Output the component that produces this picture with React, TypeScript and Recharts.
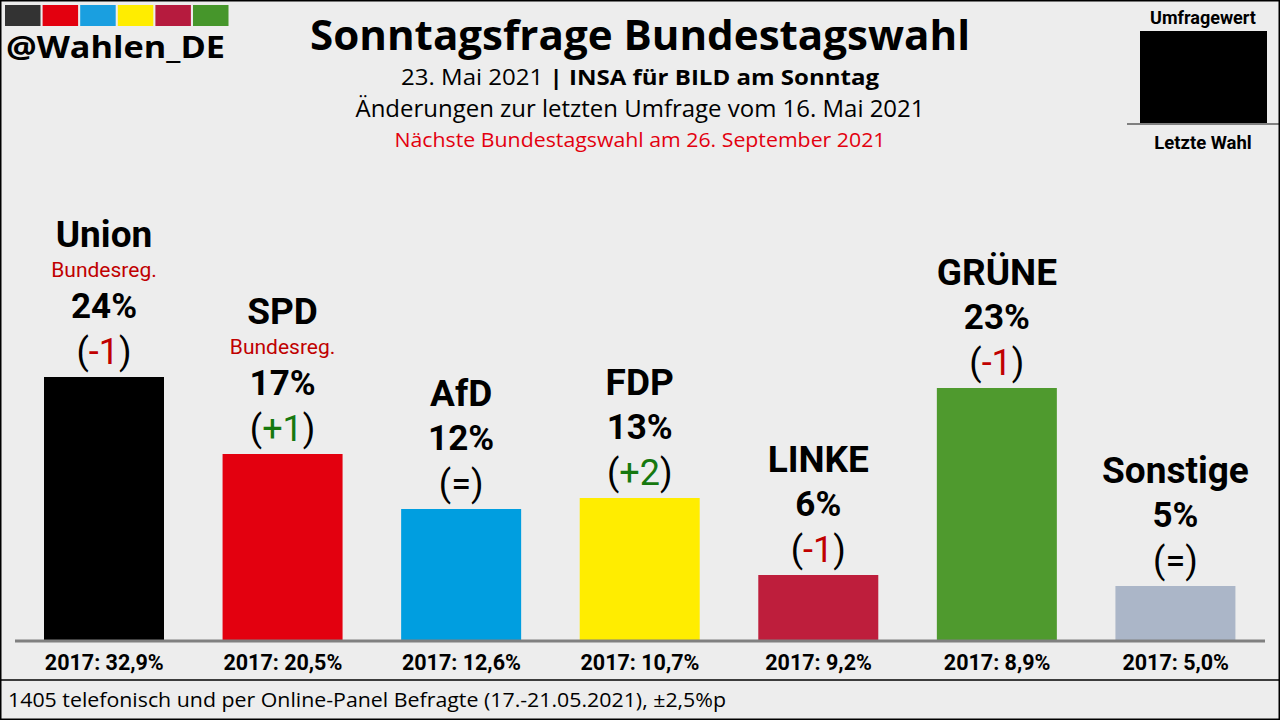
import React from 'react';
import { BarChart, Bar, XAxis, YAxis, Cell } from 'recharts';

const parties = ['Union', 'SPD', 'AfD', 'FDP', 'LINKE', 'GRÜNE', 'Sonstige'];
const pollValues = [24, 17, 12, 13, 6, 23, 5];
const changes = ['-1', '+1', '=', '+2', '-1', '-1', '='];
const government = [true, true, false, false, false, false, false];
const result2017 = ['32,9', '20,5', '12,6', '10,7', '9,2', '8,9', '5,0'];
const partyColors = ['#000000', '#e3000f', '#009ee0', '#ffed00', '#be1e3c', '#4f9a2e', '#abb6c8'];
const logoColors = ['#333333', '#e3000f', '#1a9fe0', '#ffed00', '#b61b3e', '#46962b'];

const data = parties.map((name, i) => ({ name, value: pollValues[i] }));

const BG = '#ededed';
const LABEL_FONT = 'Roboto, "Noto Sans", sans-serif';
const TEXT_FONT = '"Open Sans", "Noto Sans", sans-serif';

const changeColor = (c: string) => (c.startsWith('-') ? '#c00000' : c.startsWith('+') ? '#16780f' : '#000000');

const BarLabel = (props: any) => {
  const { x, y, width, index } = props;
  const cx = x + width / 2;
  const gov = government[index];
  const ch = changes[index];
  return (
    <g>
      <text x={cx} y={y - (gov ? 130 : 103)} textAnchor="middle" fontFamily={LABEL_FONT} fontWeight={700} fontSize={37} fill="#000">
        {parties[index]}
      </text>
      {gov && (
        <text x={cx} y={y - 100} textAnchor="middle" fontFamily={LABEL_FONT} fontSize={21} fill="#c00000">
          Bundesreg.
        </text>
      )}
      <text x={cx} y={y - 59} textAnchor="middle" fontFamily={LABEL_FONT} fontWeight={700} fontSize={35} fill="#000">
        {pollValues[index]}%
      </text>
      <text x={cx} y={y - 13} textAnchor="middle" fontFamily={LABEL_FONT} fontSize={36} fill="#000">
        (<tspan fill={changeColor(ch)}>{ch}</tspan>)
      </text>
    </g>
  );
};

const Tick2017 = (props: any) => {
  const { x, y, payload } = props;
  const i = parties.indexOf(payload.value);
  return (
    <text x={x} y={y + 29} textAnchor="middle" fontFamily={LABEL_FONT} fontWeight={700} fontSize={21.5} fill="#000">
      2017: {result2017[i]}%
    </text>
  );
};

export default function App() {
  return (
    <div style={{ position: 'fixed', left: 0, top: 0, width: 1280, height: 720, background: BG, overflow: 'hidden' }}>
      <BarChart width={1280} height={720} data={data} margin={{ top: 201, right: 15, left: 15, bottom: 49 }}>
        <YAxis hide domain={[0, 40]} />
        <XAxis
          dataKey="name"
          height={30}
          tickSize={0}
          tickMargin={0}
          tickLine={false}
          axisLine={{ stroke: '#808080', strokeWidth: 3 }}
          tick={<Tick2017 />}
          interval={0}
        />
        <Bar dataKey="value" barSize={120} isAnimationActive={false} label={<BarLabel />}>
          {data.map((d, i) => (
            <Cell key={d.name} fill={partyColors[i]} />
          ))}
        </Bar>
      </BarChart>
      <svg width={1280} height={720} style={{ position: 'absolute', left: 0, top: 0, pointerEvents: 'none' }}>
        {/* logo */}
        {logoColors.map((c, i) => (
          <rect key={c + i} x={5 + i * 37.6} y={5} width={35.5} height={21} fill={c} />
        ))}
        <text x={6} y={58} fontFamily={TEXT_FONT} fontWeight={700} fontSize={30} fill="#000" textLength={219} lengthAdjust="spacingAndGlyphs">
          @Wahlen_DE
        </text>
        {/* title */}
        <text x={640} y={50} textAnchor="middle" fontFamily={TEXT_FONT} fontWeight={700} fontSize={41} fill="#000" textLength={660} lengthAdjust="spacingAndGlyphs">
          Sonntagsfrage Bundestagswahl
        </text>
        <text x={640} y={85} textAnchor="middle" fontFamily={TEXT_FONT} fontSize={22} fill="#000" textLength={478} lengthAdjust="spacingAndGlyphs">
          23. Mai 2021 <tspan fontWeight={700}>| INSA für BILD am Sonntag</tspan>
        </text>
        <text x={640} y={117} textAnchor="middle" fontFamily={TEXT_FONT} fontSize={23} fill="#000" textLength={569} lengthAdjust="spacingAndGlyphs">
          Änderungen zur letzten Umfrage vom 16. Mai 2021
        </text>
        <text x={640} y={147} textAnchor="middle" fontFamily={TEXT_FONT} fontSize={20} fill="#e3000f" textLength={491} lengthAdjust="spacingAndGlyphs">
          Nächste Bundestagswahl am 26. September 2021
        </text>
        {/* legend */}
        <text x={1203} y={24} textAnchor="middle" fontFamily={LABEL_FONT} fontWeight={700} fontSize={18} fill="#000">
          Umfragewert
        </text>
        <rect x={1140} y={31} width={127} height={93} fill="#000" />
        <line x1={1127} y1={124} x2={1280} y2={124} stroke="#808080" strokeWidth={2} />
        <text x={1203} y={149} textAnchor="middle" fontFamily={LABEL_FONT} fontWeight={700} fontSize={18.5} fill="#000">
          Letzte Wahl
        </text>
        {/* footer */}
        <line x1={0} y1={680} x2={1280} y2={680} stroke="#000" strokeWidth={1.5} />
        <text x={8} y={707} fontFamily={TEXT_FONT} fontSize={20} fill="#000" textLength={718} lengthAdjust="spacingAndGlyphs">
          1405 telefonisch und per Online-Panel  Befragte (17.-21.05.2021), ±2,5%p
        </text>
        <rect x={0.75} y={0.75} width={1278.5} height={718.5} fill="none" stroke="#000" strokeWidth={1.5} />
      </svg>
    </div>
  );
}
